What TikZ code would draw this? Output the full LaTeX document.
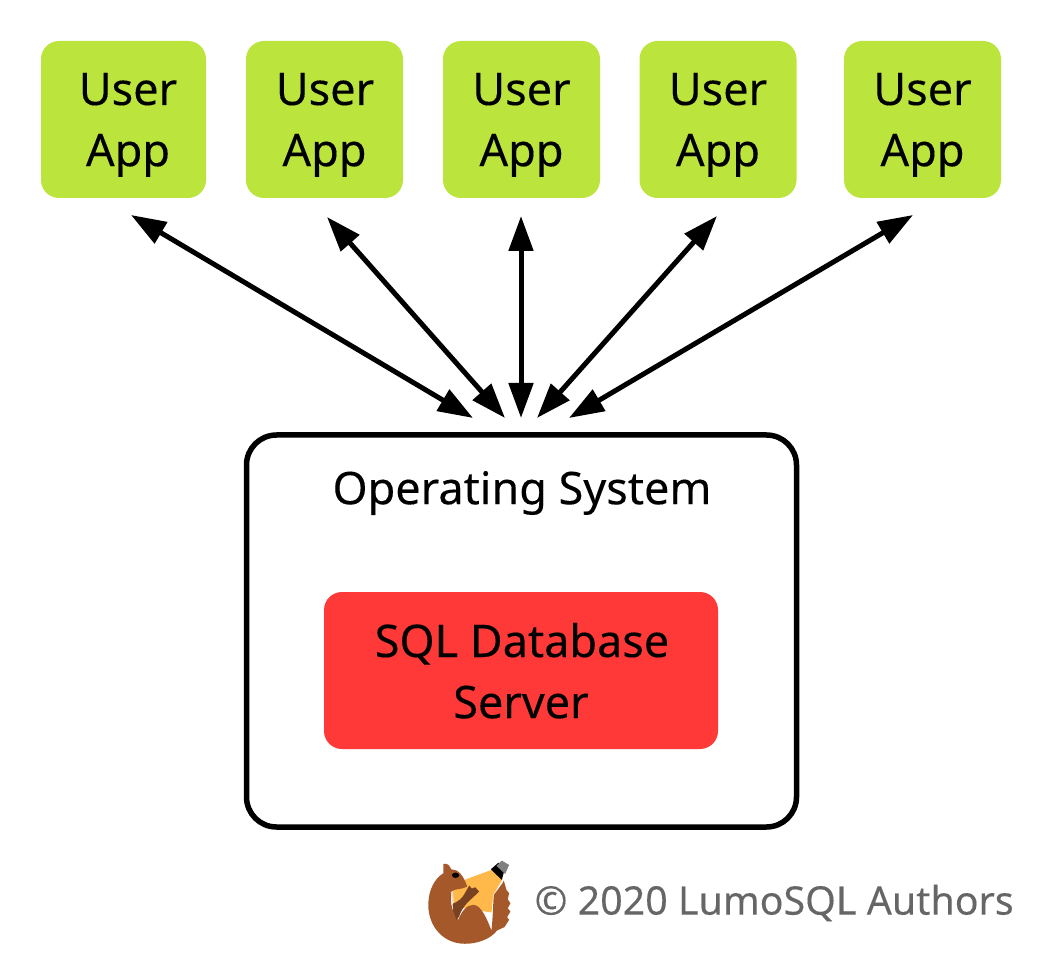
\documentclass[tikz,border=0pt]{standalone}
\usepackage{fontspec}
\setmainfont[FakeBold=0.2]{Noto Sans}
\usepackage{tikz}
\usetikzlibrary{arrows.meta, positioning, calc}
\definecolor{appgreen}{HTML}{BBE53D}
\definecolor{dbred}{HTML}{FF3838}
\definecolor{creditgray}{HTML}{666666}
\definecolor{furbrown}{HTML}{A5592B}
\definecolor{handbrown}{HTML}{7A4220}
\definecolor{lampyellow}{HTML}{FFB84A}
\definecolor{chestcream}{HTML}{F3DCC6}
\begin{document}
\begin{tikzpicture}[>={Stealth[length=0.35cm, width=0.24cm, inset=0pt]},
    boxtext/.style={font=\fontsize{12.8}{17.4}\selectfont},
    appbox/.style={rectangle, rounded corners=0.18cm, fill=appgreen, minimum width=1.57cm, minimum height=1.57cm, inner sep=0pt, align=center, boxtext, text depth=-0.04cm},
    dbbox/.style={rectangle, rounded corners=0.18cm, fill=dbred, minimum width=3.94cm, minimum height=1.57cm, inner sep=0pt, align=center, boxtext, text depth=-0.04cm},
    osbox/.style={rectangle, rounded corners=0.3cm, draw=black, line width=0.055cm, minimum width=5.5cm, minimum height=3.92cm},
    link/.style={<->, line width=0.05cm}]
  \useasboundingbox (0,0) rectangle (10.42,9.52);
  % user apps
  \node[appbox, minimum width=1.65cm] (app1) at (1.235,8.325) {\hspace*{0.09cm}User\\\hspace*{0.09cm}App};
  \node[appbox] (app2) at (3.245,8.325) {\hspace*{0.01cm}User\\App};
  \node[appbox] (app3) at (5.215,8.325) {User\\App};
  \node[appbox] (app4) at (7.18,8.325) {User\\App};
  \node[appbox] (app5) at (9.225,8.325) {User\\App};
  % operating system and database
  \node[osbox] (os) at (5.215,3.21) {};
  \node[boxtext] (ostitle) at (5.22,4.59) {Operating System};
  \node[dbbox] (db) at (5.21,2.815) {\hspace*{0.02cm}SQL Database\\Server};
  % arrow ends
  \coordinate (top1) at (1.31,7.37);
  \coordinate (top2) at (3.27,7.35);
  \coordinate (top3) at (5.21,7.36);
  \coordinate (top4) at (7.17,7.36);
  \coordinate (top5) at (9.13,7.37);
  \coordinate (bot1) at (4.73,5.34);
  \coordinate (bot2) at (5.05,5.34);
  \coordinate (bot3) at (5.21,5.34);
  \coordinate (bot4) at (5.37,5.34);
  \coordinate (bot5) at (5.69,5.34);
  \foreach \i in {1,...,5}
    \draw[link] (top\i) -- (bot\i);
  % logo
  \begin{scope}[shift={(4.10,1.12)}, x=0.0033333cm, y=-0.0033333cm]
    \fill[lampyellow] (168,118) -- (245,90) -- (278,118) -- (250,165) -- (245,218) -- (130,200) -- (130,150) -- cycle;
    \fill[black] (243,88) -- (266,68) -- (282,98) -- (276,120) -- cycle;
    \fill[gray] (260,78) -- (276,62) -- (298,75) -- (286,102) -- cycle;
    \fill[furbrown] (100,72) .. controls (112,68) and (120,78) .. (124,88)
      .. controls (145,88) and (160,105) .. (172,140)
      .. controls (155,150) and (135,145) .. (125,155)
      .. controls (118,190) and (130,225) .. (145,240)
      .. controls (155,215) and (170,195) .. (190,195)
      .. controls (215,195) and (232,240) .. (245,272)
      .. controls (250,220) and (250,185) .. (252,165)
      -- (278,130) -- (282,122) -- (290,150) -- (298,160) -- (294,178) -- (302,190)
      -- (294,205) -- (302,215) -- (292,232) -- (298,240) -- (284,262) -- (262,272)
      .. controls (240,300) and (200,312) .. (165,312)
      .. controls (100,312) and (55,260) .. (55,195)
      .. controls (55,150) and (75,115) .. (100,100) -- cycle;
    \fill[handbrown] (128,192) .. controls (145,185) and (158,175) .. (165,160)
      -- (178,137) -- (186,146) -- (196,142) -- (208,155) -- (190,172)
      .. controls (170,190) and (155,205) .. (148,230) -- (140,240) -- (130,215) -- cycle;
    \draw[chestcream, line width=0.02cm] (126,156) -- (129,188);
    \fill[black] (137,106) ellipse [x radius=11, y radius=8];
  \end{scope}
  \node[text=creditgray, font=\fontsize{11.2}{15}\selectfont, anchor=west, inner sep=0pt] (credit) at (5.34,0.49) {© 2020 LumoSQL Authors};
\end{tikzpicture}
\end{document}
